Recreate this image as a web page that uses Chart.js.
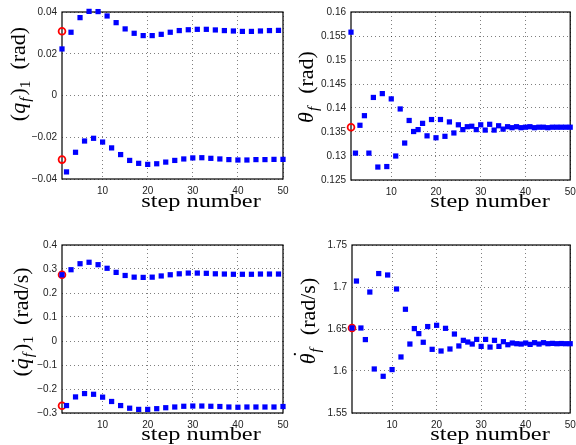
<!DOCTYPE html>
<html>
<head>
<meta charset="utf-8">
<script src="https://cdn.jsdelivr.net/npm/chart.js@4.4.1/dist/chart.umd.min.js"></script>
<style>
  html, body { margin: 0; padding: 0; background: #fff; }
  body { position: relative; width: 576px; height: 445px; overflow: hidden; }
  canvas { position: absolute; }
  .lab { position: absolute; font-family: 'Liberation Serif', 'DejaVu Serif', serif; color: #000; white-space: nowrap; line-height: 1; }
  .xl { font-size: 19px; transform: translate(-50%, -50%) scaleX(1.28); }
  .yl { font-size: 22px; transform: translate(-50%, -50%) rotate(-90deg); }
  .lab sub { font-size: 70%; vertical-align: -0.3em; line-height: 0; }
  .lab sub.f { margin-left: 1px; margin-right: 2px; }
  .acc { position: relative; display: inline-block; }
  .acc .d { position: absolute; left: 0.22em; top: -0.08em; font-style: normal; }
  .acc .d.hi { left: 0.3em; top: -0.3em; }
</style>
</head>
<body>
<canvas id="tl"></canvas>
<canvas id="tr"></canvas>
<canvas id="bl"></canvas>
<canvas id="br"></canvas>

<div class="lab xl" style="left:201px; top:200px;">step number</div>
<div class="lab xl" style="left:490px; top:200px;">step number</div>
<div class="lab xl" style="left:201px; top:433px;">step number</div>
<div class="lab xl" style="left:490px; top:433px;">step number</div>

<div class="lab yl" style="left:18px; top:74px;">(<i>q</i><sub class="f"><i>f</i></sub>)<sub>1</sub>&nbsp;&nbsp;(rad)</div>
<div class="lab yl" style="left:306px; top:87px;"><i>θ</i><sub class="f"><i>f</i></sub>&nbsp;&nbsp;(rad)</div>
<div class="lab yl" style="left:21px; top:322px;">(<span class="acc"><i>q</i><span class="d">˙</span></span><sub class="f"><i>f</i></sub>)<sub>1</sub>&nbsp;&nbsp;(rad/s)</div>
<div class="lab yl" style="left:308px; top:321px;"><span class="acc"><i>θ</i><span class="d hi">˙</span></span><sub class="f"><i>f</i></sub>&nbsp;&nbsp;(rad/s)</div>

<script>
// steps
const oddSteps = [1, 3, 5, 7, 9, 11, 13, 15, 17, 19, 21, 23, 25, 27, 29, 31, 33, 35, 37, 39, 41, 43, 45, 47, 49];
const evenSteps = [2, 4, 6, 8, 10, 12, 14, 16, 18, 20, 22, 24, 26, 28, 30, 32, 34, 36, 38, 40, 42, 44, 46, 48, 50];
const allSteps = [1, 2, 3, 4, 5, 6, 7, 8, 9, 10, 11, 12, 13, 14, 15, 16, 17, 18, 19, 20, 21, 22, 23, 24, 25,
                  26, 27, 28, 29, 30, 31, 32, 33, 34, 35, 36, 37, 38, 39, 40, 41, 42, 43, 44, 45, 46, 47, 48, 49, 50];
const xTicks = [10, 20, 30, 40, 50];

// (q_f)_1 (rad)
const qUpper = [0.0223, 0.0303, 0.0373, 0.0403, 0.0402, 0.0381, 0.0349, 0.0319, 0.0298, 0.0287, 0.0287, 0.0293, 0.0303,
                0.0311, 0.0315, 0.0317, 0.0317, 0.0314, 0.0311, 0.0309, 0.0307, 0.0307, 0.0309, 0.0311, 0.0312];
const qLower = [-0.0366, -0.0272, -0.0218, -0.0205, -0.0223, -0.0251, -0.0283, -0.0311, -0.0325, -0.0330, -0.0327, -0.0319, -0.0311,
                -0.0304, -0.0299, -0.0298, -0.0301, -0.0304, -0.0307, -0.0309, -0.0309, -0.0307, -0.0307, -0.0306, -0.0306];
const qRef = [0.0308, -0.0307];
const qTicks = [-0.04, -0.02, 0, 0.02, 0.04];

// theta_f (rad)
const theta = [0.1558, 0.1306, 0.1364, 0.1384, 0.1306, 0.1422, 0.1277, 0.1430, 0.1278, 0.1419,
               0.1300, 0.1398, 0.1327, 0.1374, 0.1351, 0.1355, 0.1368, 0.1342, 0.1376, 0.1338,
               0.1376, 0.1341, 0.1371, 0.1348, 0.1365, 0.1355, 0.1361, 0.1362, 0.1355, 0.1365,
               0.1354, 0.1366, 0.1354, 0.1363, 0.1356, 0.1361, 0.1359, 0.1361, 0.1359, 0.1360,
               0.1361, 0.1359, 0.1360, 0.1360, 0.1359, 0.1360, 0.1360, 0.1360, 0.1360, 0.1360];
const thetaRef = [0.1360];
const thetaTicks = [0.125, 0.13, 0.135, 0.14, 0.145, 0.15, 0.155, 0.16];

// (qdot_f)_1 (rad/s)
const qdUpper = [0.276, 0.297, 0.322, 0.328, 0.318, 0.303, 0.286, 0.273, 0.266, 0.265, 0.266, 0.271, 0.276,
                 0.280, 0.283, 0.283, 0.282, 0.280, 0.279, 0.278, 0.278, 0.278, 0.279, 0.279, 0.279];
const qdLower = [-0.269, -0.233, -0.219, -0.222, -0.234, -0.252, -0.269, -0.280, -0.285, -0.285, -0.282, -0.278, -0.275,
                 -0.272, -0.271, -0.271, -0.272, -0.273, -0.275, -0.276, -0.275, -0.275, -0.275, -0.275, -0.273];
const qdRef = [0.276, -0.270];
const qdTicks = [-0.3, -0.2, -0.1, 0, 0.1, 0.2, 0.3, 0.4];

// thetadot_f (rad/s)
const thetaDot = [1.6512, 1.7071, 1.6512, 1.6374, 1.6940, 1.6024, 1.7160, 1.5937, 1.7143, 1.6017,
                  1.6976, 1.6167, 1.6735, 1.6321, 1.6505, 1.6445, 1.6342, 1.6529, 1.6258, 1.6544,
                  1.6238, 1.6508, 1.6262, 1.6440, 1.6298, 1.6365, 1.6345, 1.6321, 1.6376, 1.6293,
                  1.6376, 1.6285, 1.6365, 1.6293, 1.6349, 1.6313, 1.6333, 1.6325, 1.6321, 1.6333,
                  1.6317, 1.6337, 1.6321, 1.6337, 1.6325, 1.6329, 1.6325, 1.6327, 1.6325, 1.6325];
const thetaDotRef = [1.6512];
const thetaDotTicks = [1.55, 1.6, 1.65, 1.7, 1.75];

const pts = (steps, vals) => steps.map((s, i) => ({ x: s, y: vals[i] }));

// black box round every plot area
const boxPlugin = {
  id: 'box',
  beforeDatasetsDraw(chart) {
    const { ctx, chartArea: a } = chart;
    ctx.save();
    ctx.strokeStyle = '#000';
    ctx.lineWidth = 1.2;
    ctx.strokeRect(a.left, a.top, a.right - a.left, a.bottom - a.top);
    ctx.restore();
  }
};

const tickFont = { family: 'Liberation Sans, Arial, sans-serif', size: 10 };

function makePlot(id, cv, area, series, ref, yTicks) {
  const el = document.getElementById(id);
  el.width = cv.w;
  el.height = cv.h;
  el.style.left = cv.x + 'px';
  el.style.top = cv.y + 'px';

  const datasets = series.map(s => ({
    data: s,
    pointStyle: 'rect',
    pointRadius: 3.7,
    backgroundColor: '#0000ff',
    borderColor: '#0000ff',
    borderWidth: 0,
    showLine: false,
    clip: false
  }));
  datasets.push({
    data: ref.map(v => ({ x: 1, y: v })),
    pointStyle: 'circle',
    pointRadius: 3.4,
    backgroundColor: 'rgba(0,0,0,0)',
    borderColor: '#ff0000',
    borderWidth: 1.8,
    showLine: false,
    clip: false
  });

  new Chart(el, {
    type: 'scatter',
    data: { datasets },
    options: {
      responsive: false,
      animation: false,
      events: [],
      layout: { padding: { left: 0, top: area.top - cv.y, right: cv.x + cv.w - area.right, bottom: 0 } },
      plugins: { legend: { display: false }, tooltip: { enabled: false } },
      scales: {
        x: {
          type: 'linear', min: 1, max: 50,
          afterBuildTicks: s => { s.ticks = xTicks.map(v => ({ value: v })); },
          afterFit: s => { s.height = cv.y + cv.h - area.bottom; s.paddingLeft = 0; s.paddingRight = 0; },
          grid: { color: 'rgba(0,0,0,0.5)', lineWidth: 1, drawTicks: false },
          border: { display: false, dash: [1, 3] },
          ticks: { padding: 6, color: '#222', font: tickFont, maxRotation: 0, autoSkip: false }
        },
        y: {
          type: 'linear', min: yTicks[0], max: yTicks[yTicks.length - 1],
          afterBuildTicks: s => { s.ticks = yTicks.map(v => ({ value: v })); },
          afterFit: s => { s.width = area.left - cv.x; s.paddingTop = 0; s.paddingBottom = 0; },
          grid: { color: 'rgba(0,0,0,0.5)', lineWidth: 1, drawTicks: false },
          border: { display: false, dash: [1, 3] },
          ticks: { padding: 5, color: '#222', font: tickFont, autoSkip: false,
                   callback: v => String(v).replace('-', '\u2212') }
        }
      }
    },
    plugins: [boxPlugin]
  });
}

makePlot('tl', { x: 0, y: 0, w: 296, h: 225 }, { left: 62, top: 12, right: 283, bottom: 179 },
  [pts(oddSteps, qUpper), pts(evenSteps, qLower)], qRef, qTicks);
makePlot('tr', { x: 290, y: 0, w: 286, h: 225 }, { left: 351, top: 12, right: 571, bottom: 180 },
  [pts(allSteps, theta)], thetaRef, thetaTicks);
makePlot('bl', { x: 0, y: 225, w: 296, h: 220 }, { left: 62, top: 245, right: 283, bottom: 413 },
  [pts(oddSteps, qdUpper), pts(evenSteps, qdLower)], qdRef, qdTicks);
makePlot('br', { x: 290, y: 225, w: 286, h: 220 }, { left: 352, top: 245, right: 571, bottom: 413 },
  [pts(allSteps, thetaDot)], thetaDotRef, thetaDotTicks);
</script>
</body>
</html>
